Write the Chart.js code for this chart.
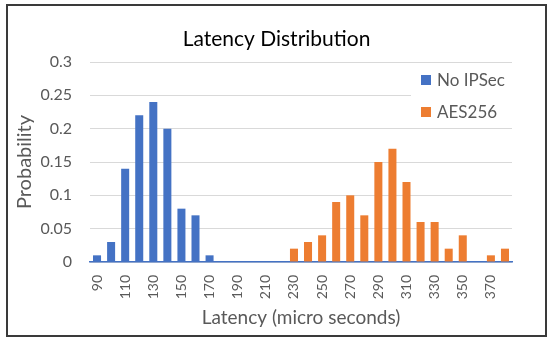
<!DOCTYPE html>
<html>
<head>
<meta charset="utf-8">
<script src="https://cdn.jsdelivr.net/npm/chart.js@4/dist/chart.umd.min.js"></script>
<style>
  html, body { margin: 0; padding: 0; background: #fff; }
  #wrap { position: absolute; left: 6px; top: 4px; width: 537px; height: 329px; border: 2px solid #3a3a3a; }
</style>
</head>
<body>
<div id="wrap"><canvas id="myChart" width="537" height="329"></canvas></div>
<script>
// latency bins (micro seconds)
const latency = [90, 100, 110, 120, 130, 140, 150, 160, 170, 180, 190, 200, 210, 220, 230,
                 240, 250, 260, 270, 280, 290, 300, 310, 320, 330, 340, 350, 360, 370, 380]
const noIpsec = [0.01, 0.03, 0.14, 0.22, 0.24, 0.20, 0.08, 0.07, 0.01, 0, 0, 0, 0, 0, 0,
                 0, 0, 0, 0, 0, 0, 0, 0, 0, 0, 0, 0, 0, 0, 0]
const aes256 = [null, null, null, null, null, null, null, null, null, null, null, null, null, null, 0.02,
                0.03, 0.04, 0.09, 0.10, 0.07, 0.15, 0.17, 0.12, 0.06, 0.06, 0.02, 0.04, 0, 0.01, 0.02]
const yTicks = [0, 0.05, 0.1, 0.15, 0.2, 0.25, 0.3]
const chartTitle = 'Latency Distribution'

const font = 'Lato, "Open Sans", sans-serif'
const grey = '#595959'

// title centred on the whole frame + legend inside the plot area with a white box behind it
const frameText = {
  id: 'frameText',
  afterDraw(chart) {
    const ctx = chart.ctx
    ctx.save()
    ctx.fillStyle = '#000'
    ctx.font = '21px ' + font
    ctx.textAlign = 'center'
    ctx.textBaseline = 'middle'
    ctx.fillText(chartTitle, chart.width / 2, 33)
    ctx.restore()
  },
  afterDatasetsDraw(chart) {
    const ctx = chart.ctx
    const area = chart.chartArea
    const x0 = area.right - 101
    ctx.save()
    ctx.fillStyle = '#fff'
    ctx.fillRect(x0, area.top + 1, 104, 65)
    ctx.font = '17px ' + font
    ctx.textBaseline = 'middle'
    chart.data.datasets.forEach((ds, i) => {
      const y = area.top + 18 + i * 32
      ctx.fillStyle = ds.backgroundColor
      ctx.fillRect(x0 + 10, y - 5, 10, 10)
      ctx.fillStyle = grey
      ctx.fillText(ds.label, x0 + 26, y + 1)
    })
    ctx.restore()
  }
}

const ctx = document.getElementById('myChart').getContext('2d')
const myChart = new Chart(ctx, {
  type: 'bar',
  data: {
    labels: latency,
    datasets: [
      { label: 'No IPSec', data: noIpsec, backgroundColor: '#4472C4', barPercentage: 0.57, categoryPercentage: 1 },
      { label: 'AES256', data: aes256, backgroundColor: '#ED7D31', barPercentage: 0.57, categoryPercentage: 1 }
    ]
  },
  options: {
    responsive: false,
    animation: false,
    layout: { padding: { left: 5, right: 33, top: 56, bottom: 2 } },
    plugins: {
      legend: { display: false },
      tooltip: { enabled: false },
      title: { display: false }
    },
    scales: {
      x: {
        stacked: true,
        grid: { display: false, drawTicks: false },
        border: { color: '#4472C4', width: 1.5 },
        afterFit: axis => { axis.height = 71 },
        ticks: {
          autoSkip: false,
          minRotation: 90,
          maxRotation: 90,
          padding: 13,
          color: grey,
          font: { family: font, size: 14 },
          callback: function(val, i) { return i % 2 === 0 ? this.getLabelForValue(val) : '' }
        },
        title: { display: true, text: 'Latency (micro seconds)', color: grey, font: { family: font, size: 19 }, padding: { top: 4, bottom: 4 } }
      },
      y: {
        min: 0,
        max: 0.3,
        afterBuildTicks: axis => { axis.ticks = yTicks.map(v => ({ value: v })) },
        afterFit: axis => { axis.width = 77 },
        grid: { color: '#d9d9d9', drawTicks: false },
        border: { display: false },
        ticks: {
          color: grey,
          padding: 18,
          font: { family: font, size: 16 },
          callback: v => String(+v.toFixed(2))
        },
        title: { display: true, text: 'Probability', color: grey, font: { family: font, size: 20 }, padding: { top: 0, bottom: 0 } }
      }
    }
  },
  plugins: [frameText]
})
</script>
</body>
</html>
